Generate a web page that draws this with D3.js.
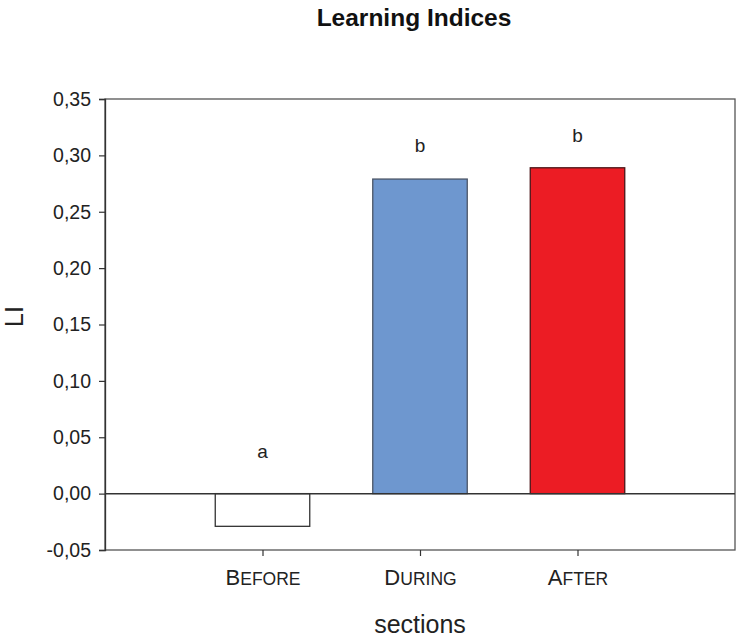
<!DOCTYPE html>
<html>
<head>
<meta charset="utf-8">
<script src="https://cdn.jsdelivr.net/npm/d3@7"></script>
<style>
  html, body { margin: 0; padding: 0; background: #fff; }
  svg { display: block; font-family: "Liberation Sans", Arial, sans-serif; }
</style>
</head>
<body>
<svg id="chart" width="739" height="640"></svg>
<script>
// ---- data ----
const categories = ["Before", "During", "After"];
const values = [-0.029, 0.279, 0.289];
const fills = ["#ffffff", "#6e97cf", "#ec1c24"];
const strokes = ["#333333", "#4b5566", "#4a1518"];
const letters = ["a", "b", "b"];
const letterValues = [0.032, 0.303, 0.312];
const yTicks = [-0.05, 0, 0.05, 0.10, 0.15, 0.20, 0.25, 0.30, 0.35];

// ---- layout ----
const svg = d3.select("#chart");
const pLeft = 105, pRight = 735, pTop = 99, pBottom = 550;

const x = d3.scalePoint().domain(categories).range([pLeft, pRight]).padding(1);
const y = d3.scaleLinear().domain([-0.05, 0.35]).range([pBottom, pTop]);
const barW = x.step() * 0.6;

// frame
svg.append("rect")
  .attr("x", pLeft).attr("y", pTop)
  .attr("width", pRight - pLeft).attr("height", pBottom - pTop)
  .attr("fill", "none").attr("stroke", "#555").attr("stroke-width", 1.3);

// bars
svg.append("g").selectAll("rect")
  .data(categories)
  .join("rect")
  .attr("x", d => x(d) - barW / 2)
  .attr("y", (d, i) => y(Math.max(0, values[i])))
  .attr("width", barW)
  .attr("height", (d, i) => Math.abs(y(values[i]) - y(0)))
  .attr("fill", (d, i) => fills[i])
  .attr("stroke", (d, i) => strokes[i])
  .attr("stroke-width", 1.3);

// zero line
svg.append("line")
  .attr("x1", pLeft).attr("x2", pRight)
  .attr("y1", y(0)).attr("y2", y(0))
  .attr("stroke", "#333").attr("stroke-width", 1.5);

// y axis
const fmt = d => d3.format(".2f")(d).replace(".", ",").replace("−", "-");
const yAxis = svg.append("g")
  .attr("transform", `translate(${pLeft},0)`)
  .call(d3.axisLeft(y).tickValues(yTicks).tickFormat(fmt).tickSize(6).tickPadding(8));
yAxis.select(".domain").attr("stroke", "#333").attr("stroke-width", 1.3);
yAxis.selectAll(".tick line").attr("stroke", "#333").attr("stroke-width", 1.2);
yAxis.selectAll(".tick text")
  .attr("font-size", 19.5).attr("fill", "#222")
  .attr("font-family", "Liberation Sans, Arial, sans-serif");

// x axis
const xAxis = svg.append("g")
  .attr("transform", `translate(0,${pBottom})`)
  .call(d3.axisBottom(x).tickSize(6).tickFormat(""));
xAxis.select(".domain").remove();
xAxis.selectAll(".tick line").attr("stroke", "#333").attr("stroke-width", 1.2);

// small-caps category labels
xAxis.selectAll(".tick").each(function(d) {
  const t = d3.select(this).append("text")
    .attr("y", 35)
    .attr("text-anchor", "middle")
    .attr("fill", "#222")
    .attr("font-family", "Liberation Sans, Arial, sans-serif");
  t.append("tspan").attr("font-size", 22).text(d[0].toUpperCase());
  t.append("tspan").attr("font-size", 17.5).text(d.slice(1).toUpperCase());
});

// significance letters
svg.append("g").selectAll("text")
  .data(categories)
  .join("text")
  .attr("x", d => x(d))
  .attr("y", (d, i) => y(letterValues[i]))
  .attr("text-anchor", "middle")
  .attr("font-size", 19)
  .attr("fill", "#222")
  .text((d, i) => letters[i]);

// title
svg.append("text")
  .attr("x", 414).attr("y", 26)
  .attr("text-anchor", "middle")
  .attr("font-size", 24.5).attr("font-weight", "bold").attr("fill", "#111")
  .text("Learning Indices");

// axis titles
svg.append("text")
  .attr("x", (pLeft + pRight) / 2).attr("y", 633)
  .attr("text-anchor", "middle")
  .attr("font-size", 25).attr("fill", "#222")
  .text("sections");

svg.append("text")
  .attr("transform", `translate(23,${(pTop + pBottom) / 2 - 8}) rotate(-90)`)
  .attr("text-anchor", "middle")
  .attr("font-size", 25).attr("fill", "#222")
  .text("LI");
</script>
</body>
</html>
